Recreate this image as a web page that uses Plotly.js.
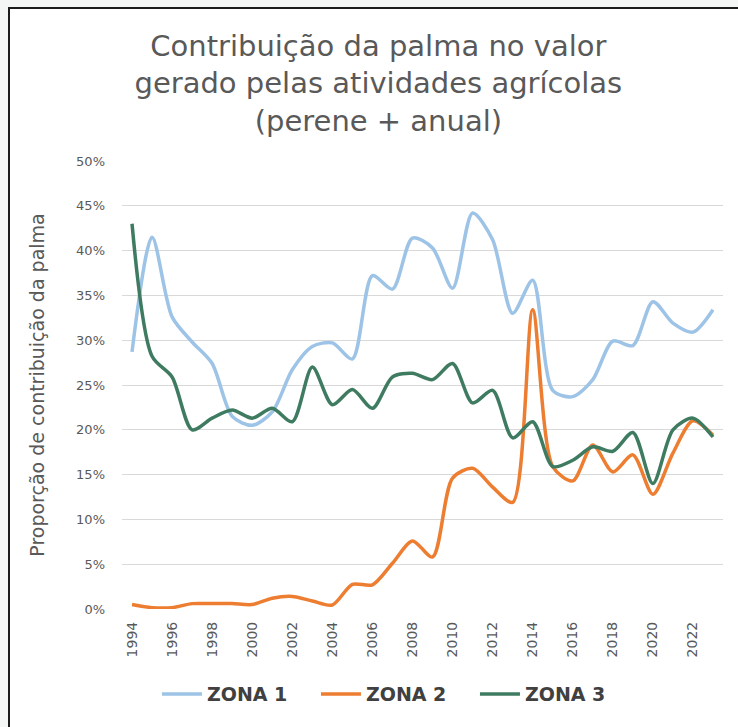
<!DOCTYPE html>
<html>
<head>
<meta charset="utf-8">
<script src="https://cdn.plot.ly/plotly-3.0.1.min.js"></script>
<style>
  html, body { margin:0; padding:0; background:#f4f5f5; width:738px; height:727px; overflow:hidden; }
  #wrap { position:absolute; left:8px; top:7px; border-left:2px solid #1c1c1c; border-top:2px solid #1c1c1c; width:728px; height:718px; background:#fff; }
  #chart { width:728px; height:718px; }
</style>
</head>
<body>
<div id="wrap"><div id="chart"></div></div>
<script>
const years = [1994,1995,1996,1997,1998,1999,2000,2001,2002,2003,2004,2005,2006,2007,2008,2009,2010,2011,2012,2013,2014,2015,2016,2017,2018,2019,2020,2021,2022,2023];
const zona1 = [28.7,41.5,32.6,29.8,27.4,21.5,20.5,22.0,26.7,29.3,29.7,27.9,37.2,35.7,41.4,40.3,35.8,44.2,41.2,33.0,36.7,24.4,23.7,25.6,29.9,29.4,34.3,31.9,30.9,33.4];
const zona2 = [0.5,0.15,0.15,0.6,0.6,0.6,0.5,1.2,1.4,0.9,0.45,2.75,2.7,5.1,7.6,5.8,14.6,15.7,13.6,11.9,33.4,15.9,14.3,18.3,15.3,17.2,12.8,17.4,21.0,19.4];
const zona3 = [43.0,28.2,25.9,20.0,21.3,22.2,21.3,22.4,20.9,27.0,22.8,24.5,22.4,25.9,26.3,25.6,27.4,23.0,24.4,19.1,20.9,15.9,16.6,18.1,17.6,19.7,14.0,20.0,21.3,19.2];
const seriesNames = ['ZONA 1','ZONA 2','ZONA 3'];
const xTicks = [1994,1996,1998,2000,2002,2004,2006,2008,2010,2012,2014,2016,2018,2020,2022];
const yTicks = [0,5,10,15,20,25,30,35,40,45,50];

const colors = ['#9dc3e6','#ed7d31','#3e7b61'];
const data = [zona1, zona2, zona3].map((vals, i) => ({
  x: years,
  y: vals.map(v => v/100),
  type: 'scatter',
  mode: 'lines',
  name: seriesNames[i],
  line: { color: colors[i], width: 3.5, shape: 'spline', smoothing: 0.8 },
  hoverinfo: 'skip'
}));

const layout = {
  width: 728, height: 718,
  paper_bgcolor: '#fff', plot_bgcolor: '#fff',
  margin: { l: 112, r: 15, t: 152, b: 118 },
  font: { family: 'DejaVu Sans', color: '#595959' },
  title: {
    text: 'Contribuição da palma no valor<br>gerado pelas atividades agrícolas<br>(perene + anual)',
    font: { family: 'DejaVu Sans', size: 29, color: '#595959' },
    xref: 'container', x: 0.506, xanchor: 'center',
    yref: 'container', y: 0.935, yanchor: 'top'
  },
  xaxis: {
    range: [1993.5, 2023.5],
    tickmode: 'array', tickvals: xTicks, ticktext: xTicks.map(String),
    tickangle: -90,
    tickfont: { size: 14, color: '#595959' },
    showgrid: false, zeroline: false, showline: false, ticks: '',
    ticklabelstandoff: 9,
    fixedrange: true
  },
  yaxis: {
    range: [0, 0.5],
    tickmode: 'array', tickvals: yTicks.map(v => v/100), ticktext: yTicks.map(v => v + '%'),
    tickfont: { size: 13, color: '#595959' },
    showgrid: true, gridcolor: '#d9d9d9', gridwidth: 1,
    zeroline: false, showline: false, ticks: '',
    ticklabelstandoff: 16,
    title: { text: 'Proporção de contribuição da palma', font: { size: 19, color: '#595959' }, standoff: 26 },
    fixedrange: true
  },
  showlegend: true,
  legend: {
    orientation: 'h', xref: 'paper', x: 0.455, xanchor: 'center',
    y: -0.19, yanchor: 'middle',
    font: { family: 'DejaVu Sans', size: 19, color: '#404040', weight: 'bold' },
    itemwidth: 40, entrywidth: 104, entrywidthmode: 'pixels',
    tracegroupgap: 0, bgcolor: 'rgba(0,0,0,0)'
  }
};

Plotly.newPlot('chart', data, layout, { displayModeBar: false, staticPlot: true });
</script>
</body>
</html>
